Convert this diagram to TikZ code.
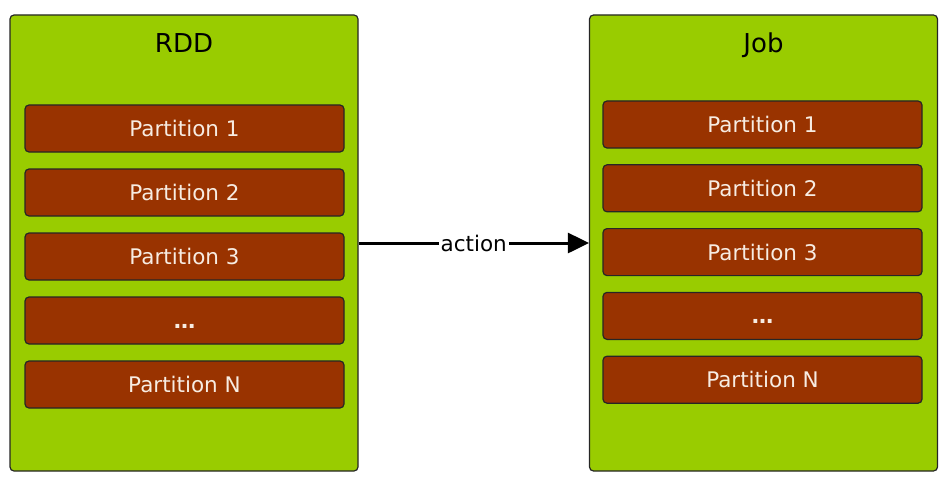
\documentclass[tikz,border=0pt]{standalone}
\usepackage{fontspec}
\setmainfont{DejaVu Sans}
\usetikzlibrary{arrows.meta}
\definecolor{boxgreen}{HTML}{99CC00}
\definecolor{partred}{HTML}{993300}
\definecolor{parttext}{HTML}{F7ECE2}

\begin{document}
\begin{tikzpicture}[x=1pt,y=-1pt,
    container/.style={draw=black!85,line width=1.2pt,fill=boxgreen,rounded corners=4pt,
        minimum width=348pt,minimum height=456pt,inner sep=0pt},
    partbox/.style={draw=black!85,line width=1.2pt,fill=partred,rounded corners=4pt,
        minimum width=319pt,minimum height=47pt,inner sep=0pt,text=parttext,
        font=\fontsize{21.5}{24}\selectfont},
    boxtitle/.style={anchor=base,font=\fontsize{26}{30}\selectfont}]
    \useasboundingbox (0,0) rectangle (947,484);
    % the two containers
    \node[container] (rdd) at (184,243) {};
    \node[container] (job) at (763.5,243) {};
    \node[boxtitle] (rddtitle) at (184,53) {RDD};
    \node[boxtitle] (jobtitle) at (763.5,53) {Job};
    % partitions
    \foreach \lbl [count=\i] in {{Partition 1},{Partition 2},{Partition 3},{\textbf{\ldots}},{Partition N}}{
        \node[partbox] (rdd-p\i) at (184.5,{128.5+64*(\i-1)}) {\vphantom{P}\lbl};
        \node[partbox] (job-p\i) at (762.5,{124.5+63.8*(\i-1)}) {\vphantom{P}\lbl};
    }
    \draw[line width=3pt,-{Triangle[length=21pt,width=20pt]}] (rdd.east) --
        node[fill=white,inner sep=2pt,font=\fontsize{21.5}{24}\selectfont] (actionlbl) {action} (job.west);
\end{tikzpicture}
\end{document}
